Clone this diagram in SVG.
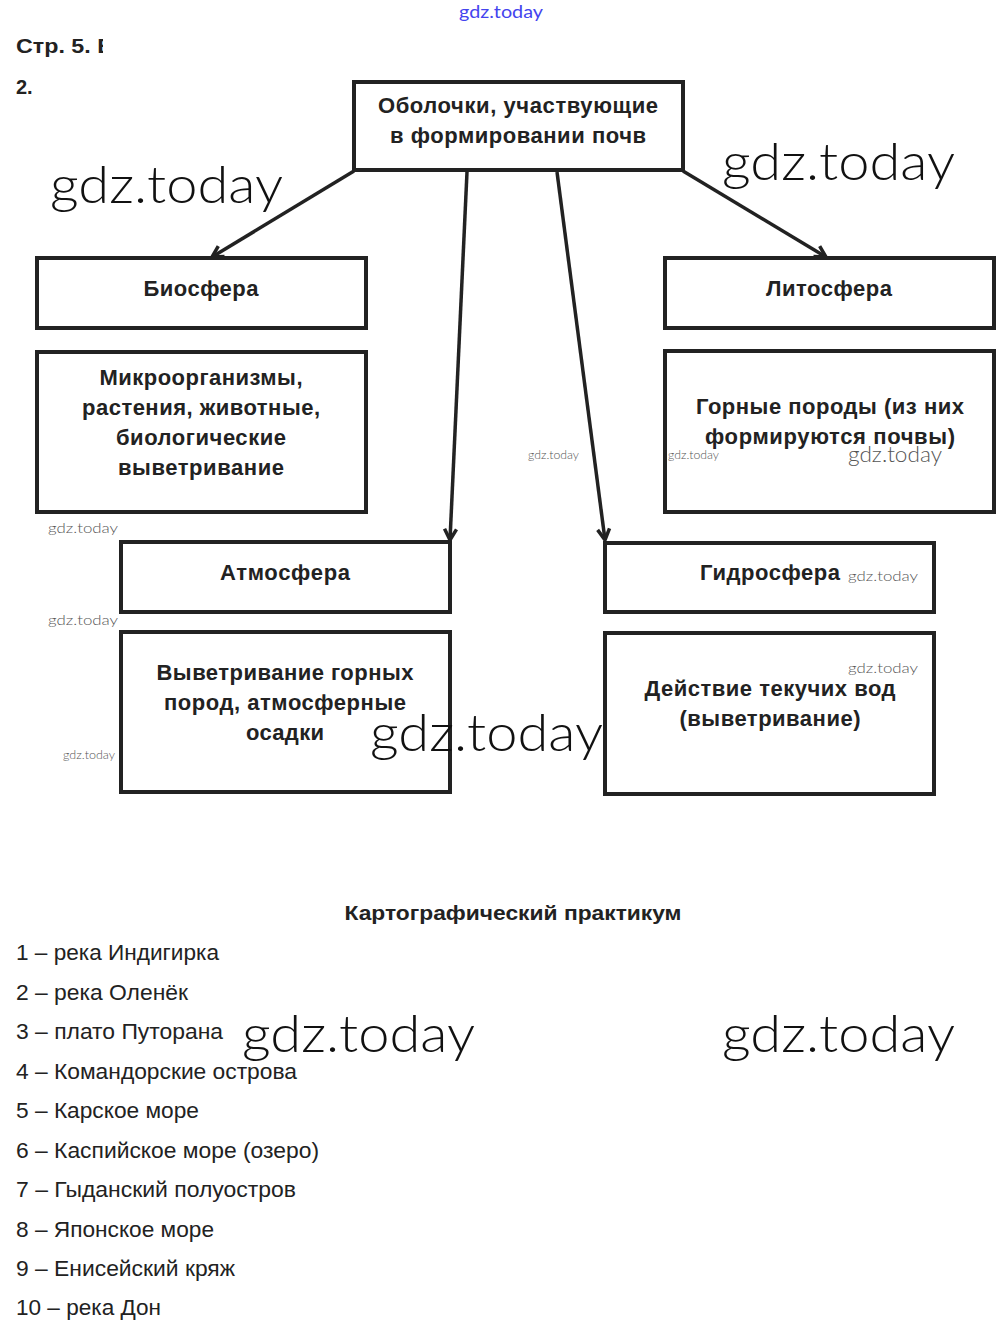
<svg xmlns="http://www.w3.org/2000/svg" width="1000" height="1336" viewBox="0 0 1000 1336">
<style>
.box{fill:#fff;stroke:#222;stroke-width:4}
.bt{font-family:"Liberation Sans",Arial,sans-serif;font-size:22px;font-weight:bold;fill:#222;text-anchor:middle}
.hd{font-family:"Liberation Sans Narrow","Liberation Sans",Arial,sans-serif;font-size:20px;font-weight:bold;fill:#222}
.li{font-family:"Liberation Sans Narrow","Liberation Sans",Arial,sans-serif;font-size:22px;fill:#222}
.wm{font-family:Lato,"DejaVu Sans",sans-serif;font-weight:300;fill:#111}
.ws{font-family:Lato,"DejaVu Sans",sans-serif;font-weight:300;fill:#555}
.con{stroke:#222;stroke-width:3.5;fill:none;marker-end:url(#ah)}
</style>
<defs>
<marker id="ah" markerUnits="userSpaceOnUse" markerWidth="16" markerHeight="16" viewBox="0 0 16 16" refX="14" refY="8" orient="auto">
<path d="M3,2 L14,8 L3,14" fill="none" stroke="#222" stroke-width="3.5"/>
</marker>
<clipPath id="hc"><rect x="0" y="30" width="103" height="30"/></clipPath>
</defs>
<rect width="1000" height="1336" fill="#fff"/>

<text x="459" y="18" font-family="Lato,'DejaVu Sans',sans-serif" font-size="17" fill="#4444ee" textLength="84" lengthAdjust="spacingAndGlyphs">gdz.today</text>

<text class="hd" x="16" y="53" clip-path="url(#hc)" textLength="98" lengthAdjust="spacingAndGlyphs">Стр. 5. В</text>
<text class="hd" x="16" y="94">2.</text>

<g id="connectors">
<line class="con" x1="354" y1="171" x2="212" y2="257"/>
<line class="con" x1="467" y1="172" x2="450" y2="540"/>
<line class="con" x1="557" y1="172" x2="605" y2="540"/>
<line class="con" x1="683" y1="171" x2="826" y2="257"/>
</g>

<g id="root">
<rect class="box" x="354" y="82" width="329" height="88"/>
<text class="bt" x="518" y="113" textLength="280" lengthAdjust="spacing">Оболочки, участвующие</text>
<text class="bt" x="518" y="143" textLength="256" lengthAdjust="spacing">в формировании почв</text>
</g>

<g id="biosphere">
<rect class="box" x="37" y="258" width="329" height="70"/>
<text class="bt" x="201" y="296" textLength="115" lengthAdjust="spacing">Биосфера</text>
</g>

<g id="bio-desc">
<rect class="box" x="37" y="352" width="329" height="160"/>
<text class="bt" x="201" y="385" textLength="203" lengthAdjust="spacing">Микроорганизмы,</text>
<text class="bt" x="201" y="415" textLength="238" lengthAdjust="spacing">растения, животные,</text>
<text class="bt" x="201" y="445" textLength="170" lengthAdjust="spacing">биологические</text>
<text class="bt" x="201" y="475" textLength="166" lengthAdjust="spacing">выветривание</text>
</g>

<g id="lithosphere">
<rect class="box" x="665" y="258" width="329" height="70"/>
<text class="bt" x="829" y="296" textLength="126" lengthAdjust="spacing">Литосфера</text>
</g>

<g id="litho-desc">
<rect class="box" x="665" y="351" width="329" height="161"/>
<text class="bt" x="830" y="414" textLength="268" lengthAdjust="spacing">Горные породы (из них</text>
<text class="bt" x="830" y="444" textLength="250" lengthAdjust="spacing">формируются почвы)</text>
</g>

<g id="atmosphere">
<rect class="box" x="121" y="542" width="329" height="70"/>
<text class="bt" x="285" y="580" textLength="130" lengthAdjust="spacing">Атмосфера</text>
</g>

<g id="atmo-desc">
<rect class="box" x="121" y="632" width="329" height="160"/>
<text class="bt" x="285" y="680" textLength="257" lengthAdjust="spacing">Выветривание горных</text>
<text class="bt" x="285" y="710" textLength="242" lengthAdjust="spacing">пород, атмосферные</text>
<text class="bt" x="285" y="740" textLength="78" lengthAdjust="spacing">осадки</text>
</g>

<g id="hydrosphere">
<rect class="box" x="605" y="543" width="329" height="69"/>
<text class="bt" x="770" y="580" textLength="140" lengthAdjust="spacing">Гидросфера</text>
</g>

<g id="hydro-desc">
<rect class="box" x="605" y="633" width="329" height="161"/>
<text class="bt" x="770" y="696" textLength="251" lengthAdjust="spacing">Действие текучих вод</text>
<text class="bt" x="770" y="726" textLength="181" lengthAdjust="spacing">(выветривание)</text>
</g>

<text class="hd" x="513" y="920" text-anchor="middle" textLength="337" lengthAdjust="spacingAndGlyphs">Картографический практикум</text>

<g id="list">
<text class="li" x="16" y="960" textLength="203" lengthAdjust="spacingAndGlyphs">1 – река Индигирка</text>
<text class="li" x="16" y="1000" textLength="172" lengthAdjust="spacingAndGlyphs">2 – река Оленёк</text>
<text class="li" x="16" y="1039" textLength="207" lengthAdjust="spacingAndGlyphs">3 – плато Путорана</text>
<text class="li" x="16" y="1079" textLength="281" lengthAdjust="spacingAndGlyphs">4 – Командорские острова</text>
<text class="li" x="16" y="1118" textLength="183" lengthAdjust="spacingAndGlyphs">5 – Карское море</text>
<text class="li" x="16" y="1158" textLength="303" lengthAdjust="spacingAndGlyphs">6 – Каспийское море (озеро)</text>
<text class="li" x="16" y="1197" textLength="280" lengthAdjust="spacingAndGlyphs">7 – Гыданский полуостров</text>
<text class="li" x="16" y="1237" textLength="198" lengthAdjust="spacingAndGlyphs">8 – Японское море</text>
<text class="li" x="16" y="1276" textLength="219" lengthAdjust="spacingAndGlyphs">9 – Енисейский кряж</text>
<text class="li" x="16" y="1315" textLength="145" lengthAdjust="spacingAndGlyphs">10 – река Дон</text>
</g>

<g id="watermarks">
<text class="wm" x="50" y="203" font-size="52" textLength="233" lengthAdjust="spacingAndGlyphs">gdz.today</text>
<text class="wm" x="722" y="180" font-size="52" textLength="233" lengthAdjust="spacingAndGlyphs">gdz.today</text>
<text class="wm" x="370" y="751" font-size="52" textLength="233" lengthAdjust="spacingAndGlyphs">gdz.today</text>
<text class="wm" x="242" y="1052" font-size="52" textLength="233" lengthAdjust="spacingAndGlyphs">gdz.today</text>
<text class="wm" x="722" y="1052" font-size="52" textLength="233" lengthAdjust="spacingAndGlyphs">gdz.today</text>
<text class="ws" x="848" y="462" font-size="21" fill="#333" textLength="94" lengthAdjust="spacingAndGlyphs">gdz.today</text>
<text class="ws" x="528" y="459" font-size="11" textLength="51" lengthAdjust="spacingAndGlyphs">gdz.today</text>
<text class="ws" x="668" y="459" font-size="11" textLength="51" lengthAdjust="spacingAndGlyphs">gdz.today</text>
<text class="ws" x="48" y="533" font-size="14" textLength="70" lengthAdjust="spacingAndGlyphs">gdz.today</text>
<text class="ws" x="48" y="625" font-size="14" textLength="70" lengthAdjust="spacingAndGlyphs">gdz.today</text>
<text class="ws" x="63" y="759" font-size="11" textLength="52" lengthAdjust="spacingAndGlyphs">gdz.today</text>
<text class="ws" x="848" y="581" font-size="14" textLength="70" lengthAdjust="spacingAndGlyphs">gdz.today</text>
<text class="ws" x="848" y="673" font-size="14" textLength="70" lengthAdjust="spacingAndGlyphs">gdz.today</text>
</g>
</svg>
